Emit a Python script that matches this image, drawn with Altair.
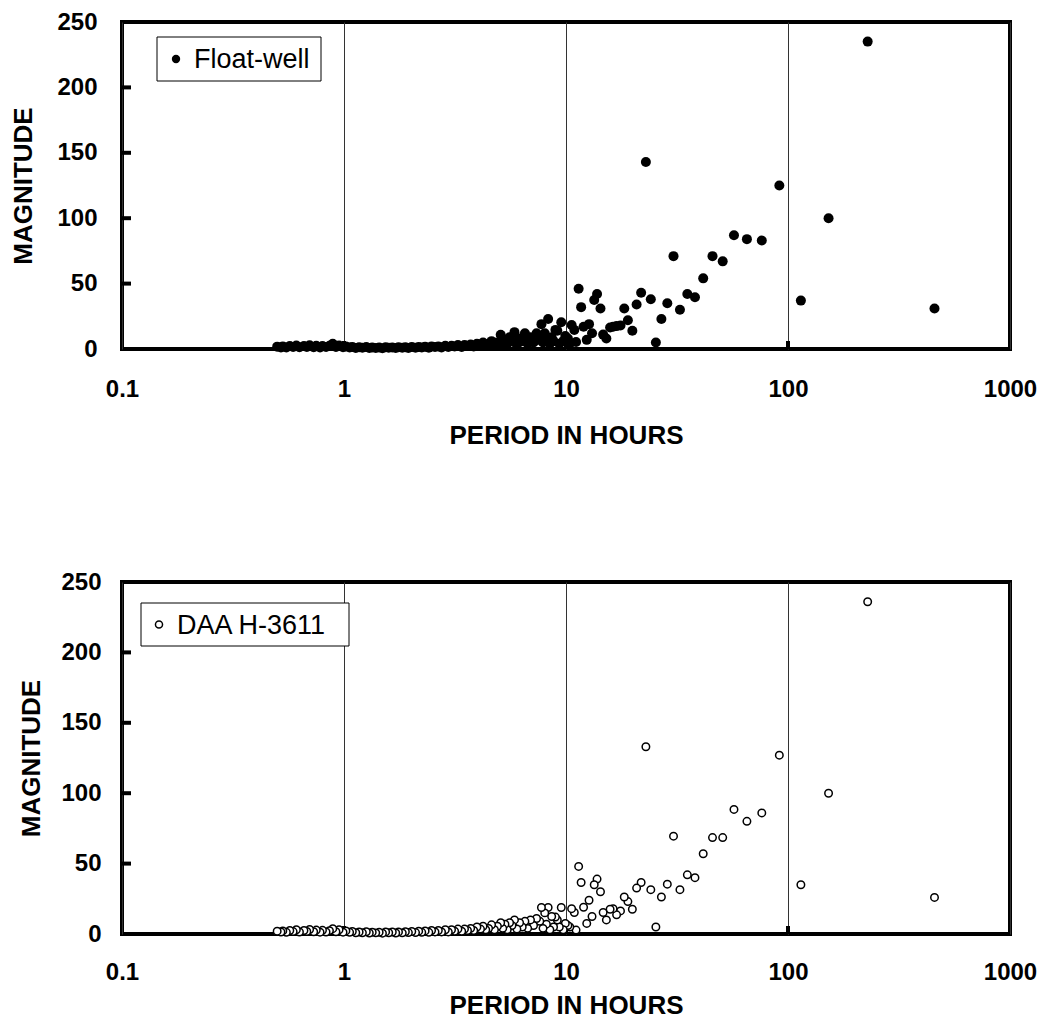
import altair as alt
import pandas as pd

# Periods (hours) of the spectral components
period_hours = [
    457.0, 228.5, 152.3, 114.3, 91.4, 76.2, 65.3, 57.1, 50.8, 45.7,
    41.5, 38.1, 35.2, 32.6, 30.5, 28.6, 26.9, 25.4, 24.1, 22.9,
    21.8, 20.8, 19.9, 19.0, 18.3, 17.6, 16.9, 16.3, 15.8, 15.2,
    14.7, 14.3, 13.8, 13.4, 13.1, 12.7, 12.4, 12.0, 11.7, 11.4,
    11.1, 10.9, 10.6, 10.4, 10.2, 9.93, 9.72, 9.52, 9.33, 9.14,
    8.96, 8.79, 8.62, 8.46, 8.31, 8.16, 8.02, 7.88, 7.75, 7.62,
    7.37, 7.14, 6.92, 6.72, 6.53, 6.35, 6.18, 6.01, 5.86, 5.71,
    5.57, 5.44, 5.31, 5.19, 5.08, 4.91, 4.76, 4.62, 4.48, 4.35,
    4.23, 4.12, 3.97, 3.84, 3.72, 3.60, 3.49, 3.39, 3.26, 3.15,
    3.05, 2.95, 2.86, 2.75, 2.66, 2.57, 2.48, 2.41, 2.32, 2.24,
    2.17, 2.10, 2.02, 1.95, 1.89, 1.83, 1.76, 1.71, 1.65, 1.59,
    1.54, 1.49, 1.44, 1.39, 1.34, 1.30, 1.26, 1.21, 1.17, 1.13,
    1.09, 1.06, 1.02, 0.99, 0.95, 0.92, 0.89, 0.86, 0.83, 0.80,
    0.78, 0.75, 0.73, 0.70, 0.68, 0.66, 0.63, 0.61, 0.59, 0.57,
    0.55, 0.53, 0.52, 0.50,
]

float_well_mag = [
    31, 235, 100, 37, 125, 83, 84, 87, 67, 71,
    54, 39.5, 42, 30, 71, 35, 23, 5, 38, 143,
    43, 34, 14, 22, 31, 18, 17.5, 17, 16.5, 8,
    11, 31, 42, 37.5, 12, 19, 7, 17, 32, 46,
    5.3, 14.6, 18.4, 4, 8, 10, 6, 20.5, 4, 14,
    14.6, 6, 9, 4, 23, 8, 12, 5, 19, 7,
    12, 5, 9, 4, 12, 6, 8, 3, 12.9, 6,
    9, 4, 7, 3, 10.9, 5, 3, 6, 4, 2.5,
    5, 3, 4, 2, 3.5, 2.5, 3, 1.5, 3, 2,
    2.5, 1.5, 2.5, 1.2, 2, 1.5, 2, 1, 1.8, 1.2,
    1.5, 1, 1.6, 0.8, 1.4, 1, 1.3, 0.7, 1.2, 0.9,
    1.3, 0.6, 1.1, 0.8, 1.2, 0.7, 1.5, 0.9, 1.3, 0.8,
    1.6, 1.1, 2, 1.4, 2.6, 1.5, 4, 2.5, 1.5, 2.2,
    1.2, 2.4, 1.4, 2.8, 1.6, 2.2, 1.3, 2.6, 1.5, 2.3,
    1.1, 2, 1.2, 1.8,
]

daa_h3611_mag = [
    26, 236, 100, 35, 127, 86, 80, 88.5, 68.5, 68.5,
    57, 40, 42, 31.5, 69.5, 35.4, 26.3, 5, 31.5, 133,
    36.6, 32.6, 17.6, 23, 26.3, 16.4, 13.6, 18, 17.6, 10,
    15.3, 30, 39, 35, 12.4, 24, 7.5, 19, 36.6, 48,
    2.8, 15.3, 18, 5, 6, 7.5, 3, 18.8, 5, 10,
    12, 5, 12.4, 3, 18.8, 7, 15, 4, 18.8, 9,
    11, 6, 10, 4, 9, 5, 8, 3.5, 10, 6,
    8, 3, 7, 4, 8, 5.5, 3, 6.5, 4, 3,
    5.5, 3.5, 5, 2.5, 4, 2.5, 3.5, 2, 3.5, 2,
    3, 1.5, 3, 1.5, 2.5, 1.5, 2.5, 1.2, 2.2, 1.2,
    2, 1, 1.8, 1, 1.6, 0.8, 1.5, 0.7, 1.4, 0.9,
    1.5, 0.6, 1.2, 0.8, 1.3, 0.7, 1.6, 0.9, 1.4, 0.9,
    1.8, 1.2, 2.2, 1.3, 3, 1.6, 3.8, 2.4, 1.4, 2.6,
    1.3, 2.8, 1.6, 3.2, 1.8, 2.5, 1.4, 3, 1.7, 2.5,
    1.2, 2.2, 1.4, 2,
]

x_tick_values = [0.1, 1, 10, 100, 1000]
y_tick_values = [0, 50, 100, 150, 200, 250]
inner_y_ticks = [50, 100, 150, 200]
inner_x_ticks = [1, 10, 100]

FONT = "Liberation Sans"


def panel(mag, name, filled, w, h, box, y_lab_pad, y_tit_pad, x_lab_pad, x_tit_pad):
    df = pd.DataFrame({"period": period_hours, "magnitude": mag})
    xscale = alt.Scale(type="log", domain=[0.1, 1000], nice=False)
    yscale = alt.Scale(domain=[0, 250], nice=False, zero=False)
    x = alt.X(
        "period:Q", scale=xscale,
        axis=alt.Axis(
            values=x_tick_values, format="~g", title="PERIOD IN HOURS",
            grid=True, gridColor="#333333", gridWidth=1,
            ticks=False, tickSize=0, domain=False, labelFlush=False,
            labelPadding=x_lab_pad, titlePadding=x_tit_pad,
            labelFont=FONT, labelFontSize=24, labelFontWeight="bold", labelColor="black",
            titleFont=FONT, titleFontSize=26, titleFontWeight="bold", titleColor="black",
        ),
    )
    y = alt.Y(
        "magnitude:Q", scale=yscale,
        axis=alt.Axis(
            values=y_tick_values, title="MAGNITUDE", grid=False,
            ticks=False, tickSize=0, domain=False,
            labelPadding=y_lab_pad, titlePadding=y_tit_pad,
            labelFont=FONT, labelFontSize=24, labelFontWeight="bold", labelColor="black",
            titleFont=FONT, titleFontSize=26, titleFontWeight="bold", titleColor="black",
        ),
    )
    if filled:
        pts = alt.Chart(df).mark_point(
            shape="circle", filled=True, color="black", size=100, opacity=1
        ).encode(x=x, y=y)
    else:
        pts = alt.Chart(df).mark_point(
            shape="circle", filled=False, fill="white", color="black",
            size=56, strokeWidth=1.5, opacity=1
        ).encode(x=x, y=y)

    yt = alt.Chart(pd.DataFrame({"magnitude": inner_y_ticks})).mark_rule(
        color="black", strokeWidth=4
    ).encode(y=y, x=alt.value(0), x2=alt.value(9))
    xt = alt.Chart(pd.DataFrame({"period": inner_x_ticks})).mark_rule(
        color="black", strokeWidth=4
    ).encode(x=x, y=alt.value(h), y2=alt.value(h - 8))

    # legend box drawn inside the plot (top-left)
    bx0, bx1, by0, by1, sx, tx = box
    leg = pd.DataFrame({"label": [name]})
    lrect = alt.Chart(leg).mark_rect(fill="white", stroke="black", strokeWidth=1).encode(
        x=alt.value(bx0), x2=alt.value(bx1), y=alt.value(by0), y2=alt.value(by1)
    )
    if filled:
        lsym = alt.Chart(leg).mark_point(shape="circle", filled=True, color="black", size=70, opacity=1)
    else:
        lsym = alt.Chart(leg).mark_point(
            shape="circle", filled=False, fill="white", color="black", size=50, strokeWidth=1.5, opacity=1
        )
    lsym = lsym.encode(x=alt.value(sx), y=alt.value((by0 + by1) / 2))
    ltxt = alt.Chart(leg).mark_text(
        align="left", baseline="middle", font=FONT, fontSize=27, color="black"
    ).encode(x=alt.value(tx), y=alt.value((by0 + by1) / 2 + 1), text="label:N")

    return alt.layer(yt, xt, pts, lrect, lsym, ltxt).properties(width=w, height=h)


top = panel(float_well_mag, "Float-well", True, 888, 327,
            (35, 199, 15, 59, 54, 72), 25, 20, 28, 21)
bottom = panel(daa_h3611_mag, "DAA H-3611", False, 888, 352,
               (19, 227, 21, 64, 37, 55), 21, 16, 26, 8)

chart = (
    alt.concat(top, bottom, columns=1, spacing=118)
    .properties(padding={"left": 0, "top": 0, "right": 0, "bottom": 0}, background="white")
    .configure_view(stroke="black", strokeWidth=4)
)

chart.save("out.html", embed_options={"renderer": "svg", "actions": False})
